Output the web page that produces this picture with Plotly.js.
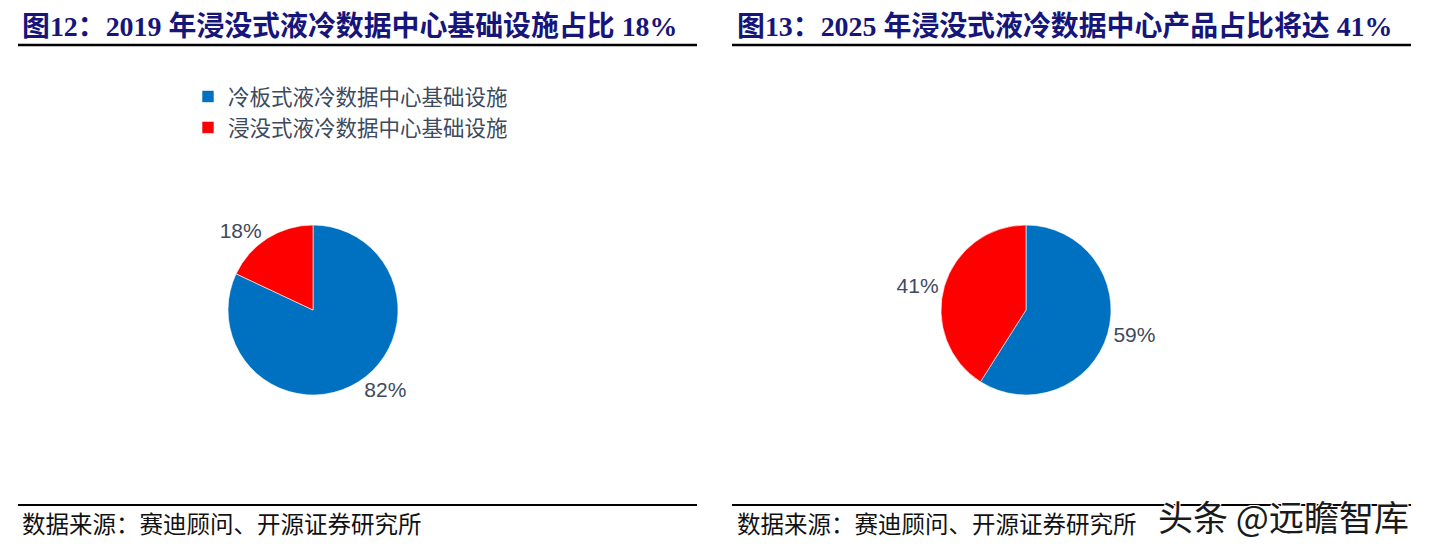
<!DOCTYPE html>
<html>
<head>
<meta charset="utf-8">
<script src="https://cdn.plot.ly/plotly-3.0.1.min.js"></script>
<style>html,body{margin:0;padding:0;background:#fff;}#chart{width:1429px;height:548px;}</style>
</head>
<body>
<div id="chart"></div>
<script>
const categories = ['冷板式液冷数据中心基础设施', '浸没式液冷数据中心基础设施'];
const share2019 = [82, 18];
const share2025 = [59, 41];
const sliceColors = ['#0070C0', '#FF0000'];
const titleLeft = '图12：2019 年浸没式液冷数据中心基础设施占比 18%';
const titleRight = '图13：2025 年浸没式液冷数据中心产品占比将达 41%';
const sourceText = '数据来源：赛迪顾问、开源证券研究所';
const watermark = '头条 @远瞻智库';

const W = 1429, H = 548;
const px = v => v / W;
const py = v => 1 - v / H;

const labelFont = {family: 'Liberation Sans, Arial, sans-serif', size: 21, color: '#3d4a5e'};

function pieTrace(values, xd, legendId) {
  return {
    type: 'pie',
    labels: categories,
    values: values,
    sort: false,
    direction: 'clockwise',
    rotation: 0,
    marker: {colors: sliceColors, line: {color: '#ffffff', width: 0.6}},
    texttemplate: '%{value}%',
    textposition: 'outside',
    textfont: labelFont,
    outsidetextfont: labelFont,
    automargin: false,
    domain: {x: xd, y: [py(395), py(225)]},
    legend: legendId,
    hoverinfo: 'label+value'
  };
}

const data = [
  pieTrace(share2019, [px(228), px(398)], 'legend'),
  pieTrace(share2025, [px(941), px(1111)], 'legend2')
];

const legendFont = {family: 'Noto Sans CJK SC, sans-serif', size: 21.5, color: '#3d4a5e'};
const titleFont = {family: 'Liberation Serif, Noto Sans CJK SC, serif', size: 27.9, color: '#16157a', weight: 'bold'};
const srcFont = {family: 'Liberation Serif, Noto Sans CJK SC, serif', size: 23.5, color: '#111111'};

const layout = {
  width: W, height: H,
  margin: {l: 0, r: 0, t: 0, b: 0},
  paper_bgcolor: '#ffffff',
  showlegend: true,
  legend: {x: px(188), y: py(112), xanchor: 'left', yanchor: 'middle', font: legendFont, itemwidth: 30, bgcolor: 'rgba(0,0,0,0)'},
  legend2: {x: px(901), y: py(112), xanchor: 'left', yanchor: 'middle', font: legendFont, itemwidth: 30, bgcolor: 'rgba(0,0,0,0)'},
  shapes: [
    {type: 'line', xref: 'paper', yref: 'paper', x0: px(18), x1: px(697), y0: py(45), y1: py(45), line: {color: '#000', width: 2.5}},
    {type: 'line', xref: 'paper', yref: 'paper', x0: px(732), x1: px(1411), y0: py(45), y1: py(45), line: {color: '#000', width: 2.5}},
    {type: 'line', xref: 'paper', yref: 'paper', x0: px(18), x1: px(697), y0: py(505), y1: py(505), line: {color: '#000', width: 2}},
    {type: 'line', xref: 'paper', yref: 'paper', x0: px(732), x1: px(1411), y0: py(505), y1: py(505), line: {color: '#000', width: 2}}
  ],
  annotations: [
    {text: titleLeft, xref: 'paper', yref: 'paper', x: px(20), y: py(27), xanchor: 'left', yanchor: 'middle', showarrow: false, font: titleFont},
    {text: titleRight, xref: 'paper', yref: 'paper', x: px(735), y: py(27), xanchor: 'left', yanchor: 'middle', showarrow: false, font: titleFont},
    {text: sourceText, xref: 'paper', yref: 'paper', x: px(20), y: py(525), xanchor: 'left', yanchor: 'middle', showarrow: false, font: srcFont},
    {text: sourceText, xref: 'paper', yref: 'paper', x: px(735), y: py(525), xanchor: 'left', yanchor: 'middle', showarrow: false, font: srcFont},
    {text: watermark, xref: 'paper', yref: 'paper', x: px(1411), y: py(515), xanchor: 'right', yanchor: 'middle', showarrow: false,
     font: {family: 'Noto Sans CJK SC, sans-serif', size: 35, color: '#1a1a1a', shadow: '1px 1px 0 #fff, -1px -1px 0 #fff, 1px -1px 0 #fff, -1px 1px 0 #fff'}}
  ]
};

Plotly.newPlot('chart', data, layout, {displayModeBar: false, staticPlot: true});
</script>
</body>
</html>
